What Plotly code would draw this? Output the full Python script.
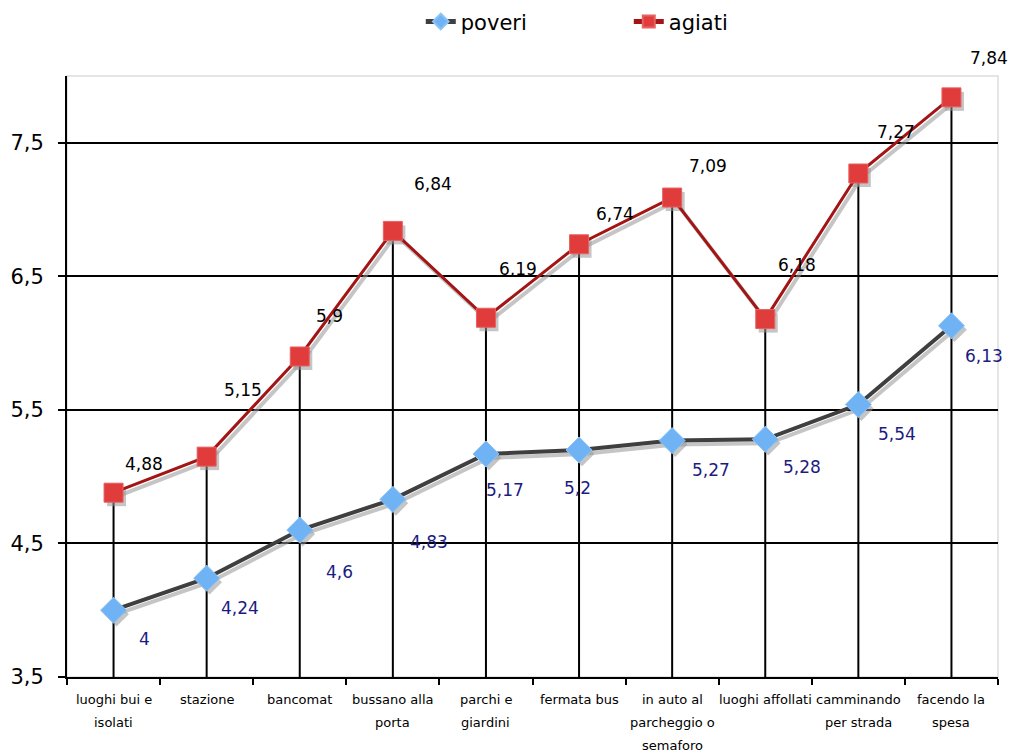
import plotly.graph_objects as go

categories = ["luoghi bui e<br>isolati", "stazione", "bancomat", "bussano alla<br>porta",
              "parchi e<br>giardini", "fermata bus", "in auto al<br>parcheggio o<br>semaforo",
              "luoghi affollati", "camminando<br>per strada", "facendo la<br>spesa"]
poveri = [4, 4.24, 4.6, 4.83, 5.17, 5.2, 5.27, 5.28, 5.54, 6.13]
agiati = [4.88, 5.15, 5.9, 6.84, 6.19, 6.74, 7.09, 6.18, 7.27, 7.84]
y_ticks = [3.5, 4.5, 5.5, 6.5, 7.5]

# label offsets in pixels (dx, dy) as placed in the original chart
agiati_off = [(30, 29), (36, 67), (30, 40), (40, 47), (32, 49), (36, 30), (36, 32), (32, 54), (38, 42), (38, 39)]
poveri_off = [(31, -29), (33, -30), (40, -42), (36, -43), (19, -36), (-2, -38), (39, -29), (37, -28), (39, -29), (33, -30)]

fmt = lambda v: f"{v:g}".replace(".", ",")
ymin, ymax = 3.5, 8.0
px_x = 10 / 931
px_y = (ymax - ymin) / 601

fig = go.Figure()

# drop lines from the highest point to the axis
dx, dy = [], []
for c, a, p in zip(categories, agiati, poveri):
    dx += [c, c, None]
    dy += [ymin, max(a, p), None]
fig.add_trace(go.Scatter(x=dx, y=dy, mode="lines", line=dict(color="black", width=2),
                         showlegend=False, hoverinfo="skip"))

# soft shadows (shifted overlay axes)
for vals, sym in [(poveri, "diamond"), (agiati, "square")]:
    fig.add_trace(go.Scatter(x=categories, y=vals, mode="lines+markers", xaxis="x2", yaxis="y2",
                             line=dict(color="rgba(150,150,150,0.55)", width=4),
                             marker=dict(symbol=sym, size=19, color="rgba(150,150,150,0.55)"),
                             showlegend=False, hoverinfo="skip"))

fig.add_trace(go.Scatter(x=categories, y=poveri, name="poveri", mode="lines+markers",
                         xaxis="x3", yaxis="y3",
                         line=dict(color="#3f3f3f", width=4),
                         marker=dict(symbol="diamond", size=20, color="#6fb3f5",
                                     line=dict(color="#8cc3f7", width=1))))
fig.add_trace(go.Scatter(x=categories, y=agiati, name="agiati", mode="lines+markers",
                         xaxis="x3", yaxis="y3",
                         line=dict(color="#a31515", width=3),
                         marker=dict(symbol="square", size=19, color="#e03c3c",
                                     line=dict(color="#e86060", width=1))))

ann = []
for c, v, (ox, oy) in zip(categories, agiati, agiati_off):
    ann.append(dict(x=c, y=v, text=fmt(v), showarrow=False, xshift=ox, yshift=oy,
                    font=dict(size=17, color="black")))
for c, v, (ox, oy) in zip(categories, poveri, poveri_off):
    ann.append(dict(x=c, y=v, text=fmt(v), showarrow=False, xshift=ox, yshift=oy,
                    font=dict(size=17, color="#1c1c80")))
# category labels, one annotation per line for the wide line spacing
for c in categories:
    for i, part in enumerate(c.split("<br>")):
        ann.append(dict(x=c, y=0, yref="paper", text=part, showarrow=False,
                        yanchor="middle", yshift=-22 - 23 * i, font=dict(size=13)))

fig.update_layout(
    width=1012, height=754,
    margin=dict(l=67, r=14, t=76, b=77),
    paper_bgcolor="white", plot_bgcolor="white",
    separators=",.",
    font=dict(family="DejaVu Sans", color="black"),
    showlegend=True,
    legend=dict(orientation="h", x=0.38, xanchor="left", yref="container", y=0.971,
                yanchor="middle",
                font=dict(size=21), entrywidth=163, entrywidthmode="pixels",
                itemsizing="constant", bgcolor="rgba(0,0,0,0)"),
    xaxis=dict(type="category", range=[-0.5, 9.5], showgrid=False, tickson="boundaries",
               ticks="outside", ticklen=6, tickwidth=2, tickcolor="black",
               showline=True, linecolor="black", linewidth=2, showticklabels=False,
               automargin=False),
    yaxis=dict(range=[ymin, ymax], tickvals=y_ticks, tickformat=".1f", showgrid=True,
               gridcolor="black", gridwidth=2, zeroline=False, ticks="outside", ticklen=7,
               tickwidth=2, tickcolor="black", showline=True, linecolor="black", linewidth=2,
               automargin=False, ticklabelstandoff=10, tickfont=dict(size=21)),
    xaxis2=dict(type="category", overlaying="x", range=[-0.5 - 3 * px_x, 9.5 - 3 * px_x], visible=False),
    yaxis2=dict(overlaying="y", range=[ymin + 4 * px_y, ymax + 4 * px_y], visible=False),
    xaxis3=dict(type="category", overlaying="x", range=[-0.5, 9.5], visible=False),
    yaxis3=dict(overlaying="y", range=[ymin, ymax], visible=False),
    annotations=ann,
    shapes=[dict(type="rect", xref="paper", yref="paper", x0=0, x1=1, y0=0, y1=1,
                 line=dict(color="#dddddd", width=1.5), layer="below")],
)

fig.write_html("out.html", config={"displayModeBar": False},
               post_script="document.body.style.margin='0px';document.body.style.overflow='hidden';")
